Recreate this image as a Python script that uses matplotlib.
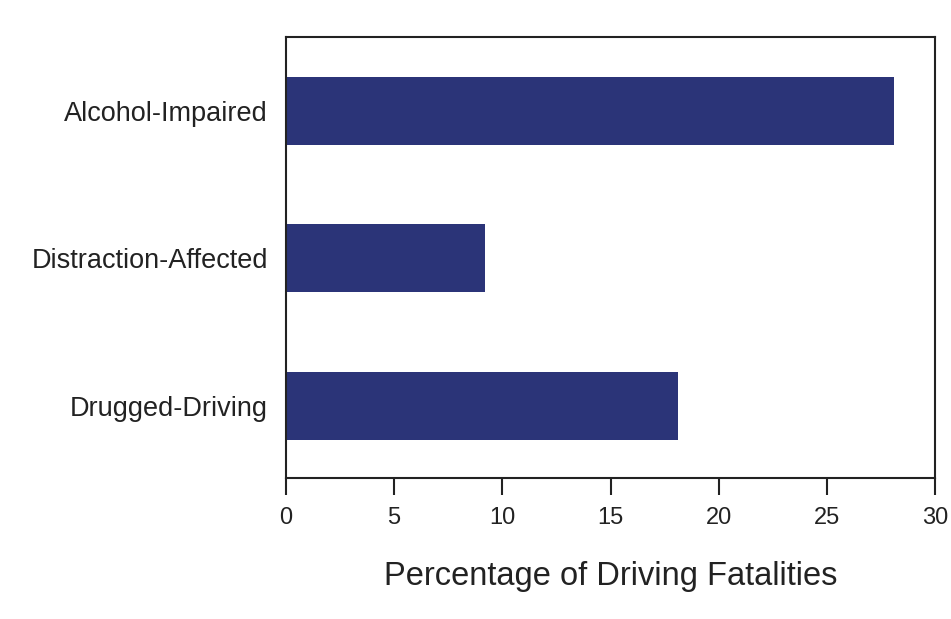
import matplotlib
matplotlib.use("Agg")
import matplotlib.pyplot as plt

categories = ["Alcohol-Impaired", "Distraction-Affected", "Drugged-Driving"]
values = [28.1, 9.2, 18.1]
xticks = [0, 5, 10, 15, 20, 25, 30]
xlabel = "Percentage of Driving Fatalities"

plt.rcParams['font.family'] = ['Liberation Sans', 'DejaVu Sans']

fig = plt.figure(figsize=(9.51, 6.19), dpi=100, facecolor='white')
ax = fig.add_axes([286/951, 1 - 478/619, (935-286)/951, (478-37)/619])
ypos = list(range(len(categories)))
ax.barh(ypos, values, height=0.46, color='#2b3478')
ax.set_ylim(2.49, -0.5)
ax.set_xlim(0, 30)
ax.set_yticks(ypos)
ax.set_yticklabels(categories, fontsize=19.5, color='#222222')
ax.tick_params(axis='y', length=0, pad=13)
ax.set_xticks(xticks)
ax.set_xticklabels([str(t) for t in xticks], fontsize=17, color='#222222')
ax.tick_params(axis='x', length=12, width=1.5, color='#222222', pad=9, direction='out')
for s in ax.spines.values():
    s.set_linewidth(1.5)
    s.set_color('#222222')
ax.set_xlabel(xlabel, fontsize=23.5, color='#222222', labelpad=23)
fig.savefig("out.png", dpi=100)
